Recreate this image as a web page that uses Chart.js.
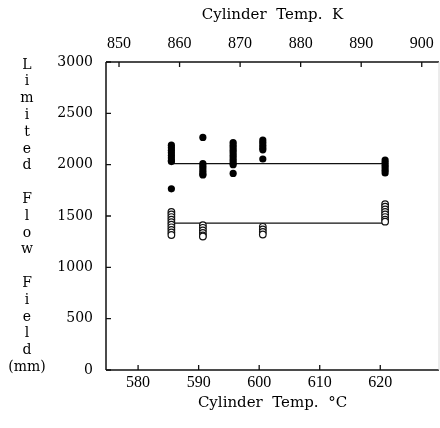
<!DOCTYPE html>
<html><head><meta charset="utf-8">
<script src="https://cdn.jsdelivr.net/npm/chart.js@4"></script>
<style>html,body{margin:0;padding:0;background:#fff;}#wrap{width:440px;height:428px;position:relative;}</style>
</head><body><div id="wrap"><canvas id="c" width="440" height="428"></canvas></div>
<script>
// ---- data ----
const tempsC = [585.5, 590.7, 595.7, 600.6, 620.8];
const filledFlow = [
  [2190, 2165, 2140, 2115, 2090, 2065, 2040, 2030, 1765],
  [2265, 2010, 1985, 1960, 1935, 1910, 1900],
  [2215, 2190, 2165, 2140, 2115, 2090, 2065, 2040, 2015, 2000, 1915],
  [2240, 2215, 2190, 2165, 2145, 2055],
  [2045, 2020, 1995, 1970, 1945, 1920]
];
const openFlow = [
  [1540, 1515, 1490, 1465, 1440, 1415, 1390, 1365, 1340, 1315],
  [1410, 1385, 1360, 1335, 1310, 1300],
  [],
  [1395, 1370, 1345, 1320],
  [1615, 1590, 1565, 1540, 1515, 1490, 1465, 1445]
];
const filledLevel = 2010;
const openLevel = 1430;
const xRangeC = [574.7, 629.7];
const yRange = [0, 3000];
const yStep = 500;
const xStep = 10;
const kelvinOffset = 273.15;
const topTitle = 'Cylinder  Temp.  K';
const bottomTitle = 'Cylinder  Temp.  \u00B0C';
const yTitleLines = ['L','i','m','i','t','e','d','','F','l','o','w','','F','i','e','l','d','(mm)'];

// ---- build datasets ----
function toPoints(groups) {
  const pts = [];
  groups.forEach((vals, i) => vals.forEach(v => pts.push({x: tempsC[i], y: v})));
  return pts;
}
const firstT = tempsC[0], lastT = tempsC[tempsC.length - 1];

const framePlugin = {
  id: 'frame',
  afterDraw(chart) {
    const {ctx, chartArea: a, scales} = chart;
    ctx.save();
    ctx.strokeStyle = '#111';
    ctx.lineWidth = 1.5;
    ctx.beginPath();
    ctx.moveTo(a.left, a.top); ctx.lineTo(a.right, a.top);
    ctx.moveTo(a.left, a.top); ctx.lineTo(a.left, a.bottom);
    ctx.moveTo(a.left, a.bottom); ctx.lineTo(a.right, a.bottom);
    ctx.stroke();
    ctx.strokeStyle = '#d8d8d8'; ctx.lineWidth = 1;
    ctx.beginPath(); ctx.moveTo(a.right, a.top); ctx.lineTo(a.right, a.bottom); ctx.stroke();
    ctx.strokeStyle = '#111'; ctx.lineWidth = 1.3;
    ctx.beginPath();
    scales.y.ticks.forEach(t => {
      const p = scales.y.getPixelForValue(t.value);
      ctx.moveTo(a.left, p); ctx.lineTo(a.left + 5, p);
    });
    scales.x.ticks.forEach(t => {
      const p = scales.x.getPixelForValue(t.value);
      ctx.moveTo(p, a.bottom); ctx.lineTo(p, a.bottom - 5);
    });
    scales.x2.ticks.forEach(t => {
      const p = scales.x2.getPixelForValue(t.value);
      ctx.moveTo(p, a.top); ctx.lineTo(p, a.top + 5);
    });
    ctx.stroke();
    ctx.fillStyle = '#000';
    ctx.textAlign = 'center'; ctx.textBaseline = 'middle';
    ctx.font = '15px "DejaVu Serif"';
    const cx = (a.left + a.right) / 2;
    ctx.fillText(topTitle, cx, 15);
    ctx.fillText(bottomTitle, cx, 403);
    ctx.font = '14px "DejaVu Serif"';
    yTitleLines.forEach((s, i) => { if (s) ctx.fillText(s, 27, 65 + i * 16.8); });
    ctx.restore();
  }
};

function noPad(s) { s.paddingLeft = 0; s.paddingRight = 0; s.paddingTop = 0; s.paddingBottom = 0; }
const tickFontX = {family: 'Liberation Serif', size: 16};
new Chart(document.getElementById('c'), {
  type: 'scatter',
  data: {
    datasets: [
      {label: 'filled', data: toPoints(filledFlow), pointRadius: 3.6, pointStyle: 'circle',
       backgroundColor: '#000', borderColor: '#000', borderWidth: 0},
      {label: 'open', data: toPoints(openFlow), pointRadius: 3.3, pointStyle: 'circle',
       backgroundColor: '#fff', borderColor: '#111', borderWidth: 1.2},
      {label: 'filled level', data: [{x: firstT, y: filledLevel}, {x: lastT, y: filledLevel}],
       showLine: true, pointRadius: 0, borderColor: '#111', borderWidth: 1.3},
      {label: 'open level', data: [{x: firstT, y: openLevel}, {x: lastT, y: openLevel}],
       showLine: true, pointRadius: 0, borderColor: '#111', borderWidth: 1.3}
    ]
  },
  options: {
    responsive: false, animation: false, devicePixelRatio: 1,
    layout: {autoPadding: false, padding: {left: 0, right: 1, top: 0, bottom: 0}},
    plugins: {legend: {display: false}, tooltip: {enabled: false}},
    scales: {
      x: {type: 'linear', position: 'bottom', min: xRangeC[0], max: xRangeC[1],
          ticks: {stepSize: xStep, includeBounds: false, font: tickFontX, color: '#000', padding: 3, maxRotation: 0},
          grid: {display: false, drawTicks: false}, border: {display: false},
          afterFit(s) { s.height = 58; noPad(s); }},
      x2: {type: 'linear', position: 'top', min: xRangeC[0] + kelvinOffset, max: xRangeC[1] + kelvinOffset,
          ticks: {stepSize: xStep, includeBounds: false, font: tickFontX, color: '#000', padding: 9, maxRotation: 0},
          grid: {display: false, drawTicks: false}, border: {display: false},
          afterFit(s) { s.height = 62; noPad(s); }},
      y: {type: 'linear', position: 'left', min: yRange[0], max: yRange[1],
          ticks: {stepSize: yStep, font: {family: 'DejaVu Serif', size: 14}, color: '#000', padding: 13,
                  callback: v => String(v)},
          grid: {display: false, drawTicks: false}, border: {display: false},
          afterFit(s) { s.width = 106; noPad(s); }}
    }
  },
  plugins: [framePlugin]
});
</script></body></html>
